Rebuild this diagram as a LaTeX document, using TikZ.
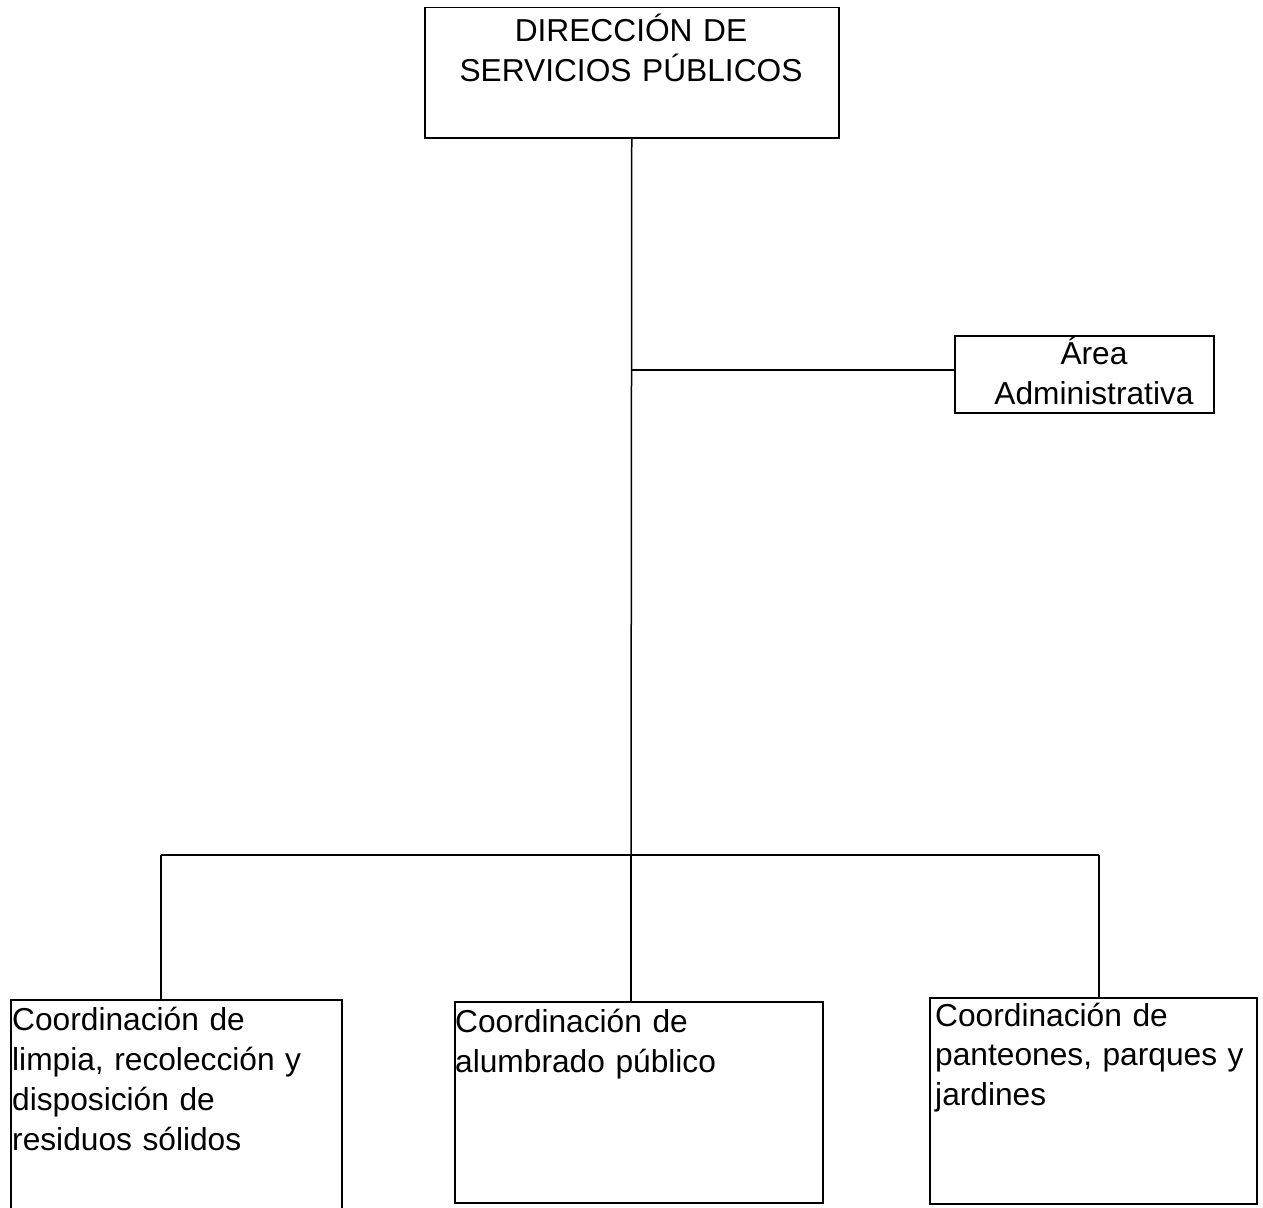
\documentclass[tikz,border=0pt]{standalone}
\usepackage{fontspec}
\setmainfont{Liberation Sans}
\begin{document}
\begin{tikzpicture}[x=1pt,y=-1pt,
  box/.style={draw, line width=1.5pt, inner sep=0pt, anchor=north west},
  txt/.style={inner sep=0pt, font=\fontsize{31.7}{40}\selectfont},
  wire/.style={line width=1.5pt}]
\useasboundingbox (0,0) rectangle (1263,1207);
% boxes
\node[box, minimum width=414pt, minimum height=130pt] (dir) at (424,7) {};
\node[box, minimum width=259pt, minimum height=77pt] (adm) at (954,335) {};
\node[box, minimum width=331pt, minimum height=216pt] (c1) at (10,999) {};
\node[box, minimum width=368pt, minimum height=201pt] (c2) at (454,1001) {};
\node[box, minimum width=327pt, minimum height=206pt] (c3) at (929,997) {};
% texts
\node[txt, anchor=north, text width=410pt, align=center] (tdir) at (631,14)
  {\fontsize{31.7}{38}\selectfont\strut DIRECCIÓN DE\\SERVICIOS PÚBLICOS};
\node[txt, anchor=north, text width=250pt, align=center] (tadm) at (1094,337)
  {\fontsize{31.7}{37}\selectfont\strut Área\\Administrativa};
\node[txt, anchor=north west, text width=330pt, align=left] (tc1) at (12,1002)
  {\strut Coordinación de\\limpia, recolección y\\disposición de\\residuos sólidos};
\node[txt, anchor=north west, text width=360pt, align=left] (tc2) at (455,1005)
  {\fontsize{31.7}{39}\selectfont\strut Coordinación de\\alumbrado público};
\node[txt, anchor=north west, text width=320pt, align=left] (tc3) at (935,999)
  {\fontsize{31.7}{39}\selectfont\strut Coordinación de\\panteones, parques y\\jardines};
% connectors
\coordinate (j1) at (631,370);
\coordinate (bus) at (631,855);
\coordinate (b1) at (161,855);
\coordinate (b3) at (1099,855);
\draw[wire] (dir.south) -- (bus);
\draw[wire] (j1) -- (j1 -| adm.west);
\draw[wire] (b1) -- (b3);
\draw[wire] (b1) -- (b1 |- c1.north);
\draw[wire] (bus) -- (bus |- c2.north);
\draw[wire] (b3) -- (b3 |- c3.north);
\end{tikzpicture}
\end{document}
